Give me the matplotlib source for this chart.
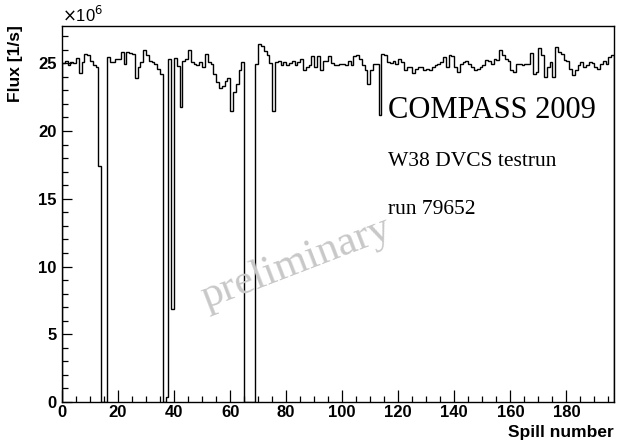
import numpy as np
import matplotlib
matplotlib.use("Agg")
import matplotlib.pyplot as plt
from matplotlib.ticker import MultipleLocator

# Flux per spill, in units of 1e6 /s (bins 0..196, width 1)
flux_0_39 = [25.0, 25.2, 24.9, 25.1, 25.0, 25.4, 24.3, 25.1, 25.7, 25.6,
             25.2, 24.9, 24.7, 17.4, 0.0, 0.0, 25.47, 25.1, 25.1, 25.35,
             25.35, 25.8, 24.97, 25.8, 25.75, 25.7, 23.9, 24.7, 25.1, 25.96,
             25.6, 25.2, 25.1, 24.97, 24.6, 24.2, 0.0, 0.4, 25.3, 6.9]
flux_40_79 = [25.4, 24.8, 21.8, 25.2, 25.3, 26.0, 25.1, 24.97, 24.85, 25.1,
              24.7, 25.7, 25.1, 24.97, 24.2, 23.6, 23.2, 23.3, 23.7, 23.9,
              21.5, 22.9, 23.5, 24.5, 25.1, 0.0, 0.0, 0.0, 0.0, 24.97,
              26.4, 26.3, 25.9, 25.6, 25.0, 21.5, 25.1, 25.2, 24.9, 25.1]
flux_80_119 = [24.85, 25.0, 25.15, 24.85, 25.1, 25.35, 24.5, 24.7, 24.85, 25.5,
               24.7, 25.5, 24.5, 25.2, 25.2, 25.5, 25.0, 24.9, 24.85, 24.95,
               24.95, 24.9, 25.2, 24.9, 25.5, 25.6, 25.3, 24.9, 24.5, 23.5,
               24.5, 24.95, 24.95, 21.2, 25.7, 25.6, 25.1, 25.0, 25.2, 24.98]
flux_120_159 = [25.35, 25.1, 24.5, 24.75, 24.75, 24.25, 24.6, 24.7, 24.75, 24.5,
                24.6, 24.5, 24.75, 24.85, 24.95, 25.1, 25.47, 24.75, 25.6, 25.5,
                24.75, 24.35, 24.98, 25.1, 25.2, 24.98, 24.7, 24.5, 24.61, 24.73,
                24.86, 25.27, 25.18, 24.98, 25.35, 25.27, 25.96, 25.6, 25.35, 25.18]
flux_160_196 = [24.49, 24.36, 24.98, 24.93, 24.86, 24.93, 24.93, 25.77, 24.24, 24.36,
                26.09, 25.6, 23.95, 24.73, 25.1, 23.95, 26.2, 25.84, 25.72, 25.22,
                25.18, 24.61, 24.12, 24.49, 24.86, 25.1, 24.73, 24.86, 25.1, 25.03,
                24.73, 24.61, 24.93, 25.18, 24.98, 25.47, 25.6]

flux = np.array(flux_0_39 + flux_40_79 + flux_80_119 + flux_120_159 + flux_160_196)
edges = np.arange(len(flux) + 1)

x_ticks = [0, 20, 40, 60, 80, 100, 120, 140, 160, 180]
y_ticks = [0, 5, 10, 15, 20, 25]

fig = plt.figure(figsize=(6.18, 4.40), dpi=100)
ax = fig.add_axes([62 / 618, 1 - 402 / 440, (614 - 62) / 618, (402 - 26) / 440])

ax.stairs(flux, edges, color="black", lw=1.0)

ax.set_xlim(0, len(flux))
ax.set_ylim(0, 27.75)
ax.set_xticks(x_ticks)
ax.set_yticks(y_ticks)
ax.xaxis.set_minor_locator(MultipleLocator(5))
ax.yaxis.set_minor_locator(MultipleLocator(1))
ax.tick_params(axis="both", which="both", direction="in", top=False, right=False, width=0.9)
ax.tick_params(axis="x", which="major", length=9, pad=2)
ax.tick_params(axis="x", which="minor", length=4.5)
ax.tick_params(axis="y", which="major", length=7, pad=4)
ax.tick_params(axis="y", which="minor", length=4)
for lab in ax.get_xticklabels() + ax.get_yticklabels():
    lab.set_fontfamily("Liberation Sans")
    lab.set_fontweight("bold")
    lab.set_fontsize(12)
for s in ax.spines.values():
    s.set_linewidth(1.0)

fig.text(614 / 618, 1 - 432 / 440, "Spill number", ha="right", va="center",
         fontsize=12.5, fontweight="bold", family="Liberation Sans")
fig.text(16 / 618, 1 - 25 / 440, "Flux [1/s]", ha="center", va="top", rotation=90,
         fontsize=12.5, fontweight="bold", family="Liberation Sans")
fig.text(62 / 618, 1 - 22 / 440, r"$\times$10$^{6}$", ha="left", va="baseline",
         fontsize=12, family="Liberation Sans")

fig.text(388 / 618, 1 - 118 / 440, "COMPASS 2009", ha="left", va="baseline",
         fontsize=22, family="Liberation Serif")
fig.text(388 / 618, 1 - 166 / 440, "W38 DVCS testrun", ha="left", va="baseline",
         fontsize=15.5, family="Liberation Serif")
fig.text(388 / 618, 1 - 214 / 440, "run 79652", ha="left", va="baseline",
         fontsize=15.5, family="Liberation Serif")
fig.text(296 / 618, 1 - 263 / 440, "preliminary", ha="center", va="center",
         rotation=21, fontsize=31, family="Liberation Serif", color="#c8c8c8")

fig.savefig("out.png", dpi=100)
